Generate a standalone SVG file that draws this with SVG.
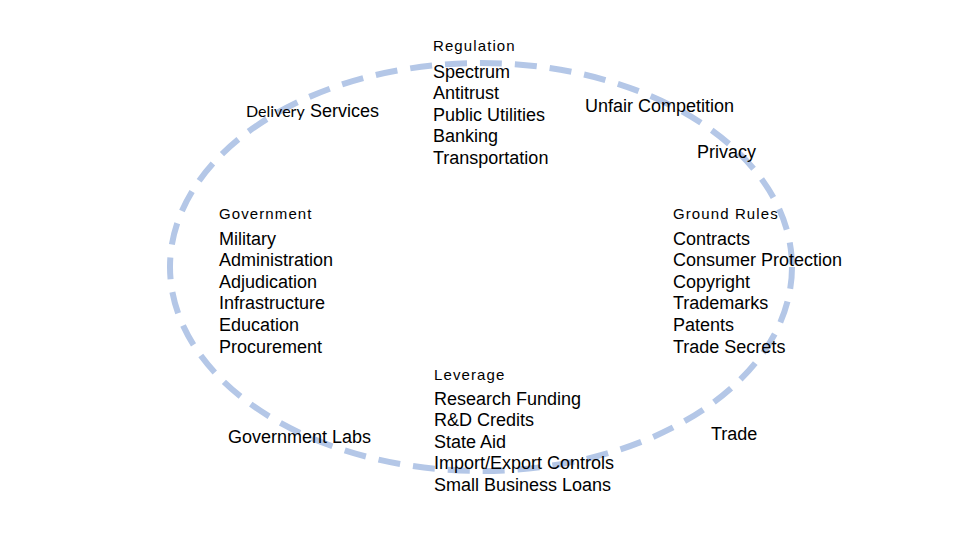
<svg xmlns="http://www.w3.org/2000/svg" width="960" height="540" viewBox="0 0 960 540">
<style>
.t{font-family:"Liberation Sans",Arial,sans-serif;font-size:18px;fill:#000}
.h{font-family:"Liberation Sans",Arial,sans-serif;font-size:15px;letter-spacing:1.1px;fill:#000}
.c{font-family:Lato,"Open Sans",sans-serif;font-size:16px;fill:#000}
</style>
<rect width="960" height="540" fill="#fff"/>
<g id="connectors">
<ellipse cx="481" cy="267" rx="311" ry="204" fill="none" stroke="#b4c7e7" stroke-width="6" stroke-dasharray="22 13"/>
</g>
<g id="delivery"><text x="246" y="117"><tspan class="c">Delivery</tspan><tspan class="t" x="310" y="117">Services</tspan></text></g>
<g id="regulation">
<text class="h" x="433" y="51">Regulation</text>
<text class="t" x="433" y="78">Spectrum</text>
<text class="t" x="433" y="99">Antitrust</text>
<text class="t" x="433" y="121">Public Utilities</text>
<text class="t" x="433" y="142">Banking</text>
<text class="t" x="433" y="164">Transportation</text>
</g>
<g id="unfair"><text class="t" x="585" y="112">Unfair Competition</text></g>
<g id="privacy"><text class="t" x="697" y="158">Privacy</text></g>
<g id="government">
<text class="h" x="219" y="219">Government</text>
<text class="t" x="219" y="245">Military</text>
<text class="t" x="219" y="266">Administration</text>
<text class="t" x="219" y="288">Adjudication</text>
<text class="t" x="219" y="309">Infrastructure</text>
<text class="t" x="219" y="331">Education</text>
<text class="t" x="219" y="353">Procurement</text>
</g>
<g id="groundrules">
<text class="h" x="673" y="219">Ground Rules</text>
<text class="t" x="673" y="245">Contracts</text>
<text class="t" x="673" y="266">Consumer Protection</text>
<text class="t" x="673" y="288">Copyright</text>
<text class="t" x="673" y="309">Trademarks</text>
<text class="t" x="673" y="331">Patents</text>
<text class="t" x="673" y="353">Trade Secrets</text>
</g>
<g id="leverage">
<text class="h" x="434" y="380">Leverage</text>
<text class="t" x="434" y="405">Research Funding</text>
<text class="t" x="434" y="426">R&amp;D Credits</text>
<text class="t" x="434" y="448">State Aid</text>
<text class="t" x="434" y="469">Import/Export Controls</text>
<text class="t" x="434" y="491">Small Business Loans</text>
</g>
<g id="labs"><text class="t" x="228" y="443">Government Labs</text></g>
<g id="trade"><text class="t" x="711" y="440">Trade</text></g>
</svg>
